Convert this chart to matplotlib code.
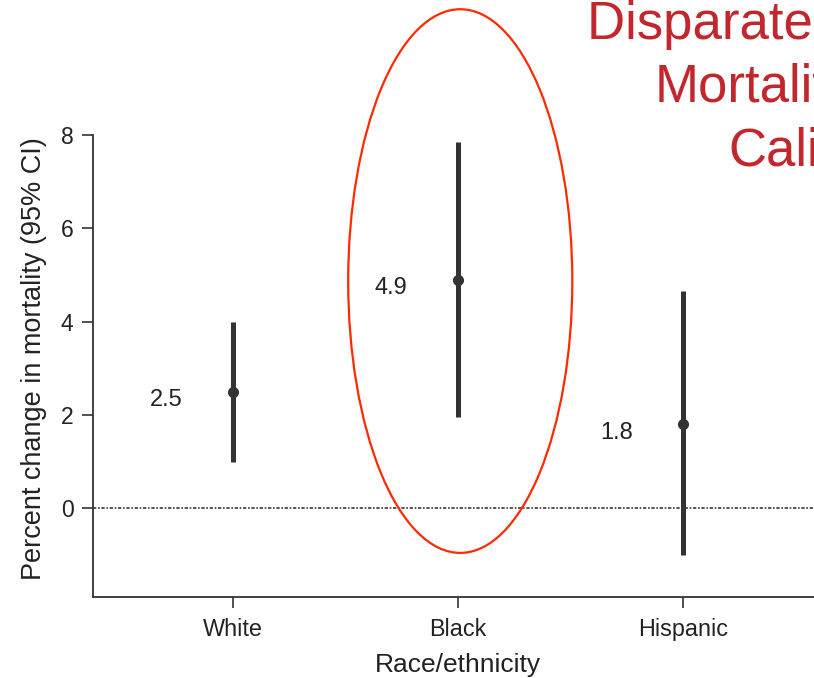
import matplotlib
matplotlib.use("Agg")
import matplotlib.pyplot as plt
from matplotlib.patches import Ellipse

plt.rcParams['font.family'] = ['Liberation Sans', 'DejaVu Sans']

groups = ["White", "Black", "Hispanic"]
estimates = [2.5, 4.9, 1.8]
ci_low = [1.0, 1.95, -1.0]
ci_high = [4.0, 7.85, 4.65]
labels = ["2.5", "4.9", "1.8"]
yticks = [0, 2, 4, 6, 8]
title_lines = ["Disparate Impacts", "Mortality", "California"]

ink = "#333333"
txt = "#222222"
fig = plt.figure(figsize=(8.14, 6.78), dpi=100)
ax = fig.add_axes([93/814, 81/678, 730/814, 462/678])
xs = list(range(1, len(groups) + 1))

ax.axhline(0, color="#3a3a3a", lw=1.2, ls=(0, (2, 1, 1, 1)), zorder=1)
ax.vlines(xs, ci_low, ci_high, color=ink, lw=3.6, zorder=2)
ax.plot(xs, estimates, 'o', color=ink, ms=7, zorder=3)
for x, y, t in zip(xs, estimates, labels):
    ax.annotate(t, (x, y), xytext=(-48, -6), textcoords='offset points',
                ha='center', va='center', fontsize=17, color=txt)

ax.set_xlim(0.378, 3.622)
ax.set_ylim(-1.9, 8)
ax.set_xticks(xs)
ax.set_xticklabels(groups, fontsize=16.8, color=txt)
ax.set_yticks(yticks)
ax.set_yticklabels([str(v) for v in yticks], fontsize=16.5, color=txt)
ax.tick_params(axis='both', length=8, width=1.2, color=ink, direction='out')
ax.tick_params(axis='x', pad=7)
ax.tick_params(axis='y', pad=6)
for s in ['top', 'right']:
    ax.spines[s].set_visible(False)
for s in ['left', 'bottom']:
    ax.spines[s].set_color(ink)
    ax.spines[s].set_linewidth(1.3)
ax.set_xlabel("Race/ethnicity", fontsize=19, color=txt, labelpad=9)
ax.set_ylabel("Percent change in mortality (95% CI)", fontsize=19.5, color=txt, labelpad=10)
ax.yaxis.label.set_y(0.517)

ell = Ellipse((2.01, 4.87), 0.996, 11.65, fill=False, edgecolor="#ff2a00", lw=1.6,
              clip_on=False, zorder=4)
ax.add_patch(ell)

red = "#c1272d"
fig.text(587/814, 1 - 39/678, title_lines[0], color=red, fontsize=38, ha='left', va='baseline')
fig.text(655/814, 1 - 102/678, title_lines[1], color=red, fontsize=38, ha='left', va='baseline')
fig.text(728/814, 1 - 166/678, title_lines[2], color=red, fontsize=38, ha='left', va='baseline')

fig.savefig("out.png", dpi=100)
